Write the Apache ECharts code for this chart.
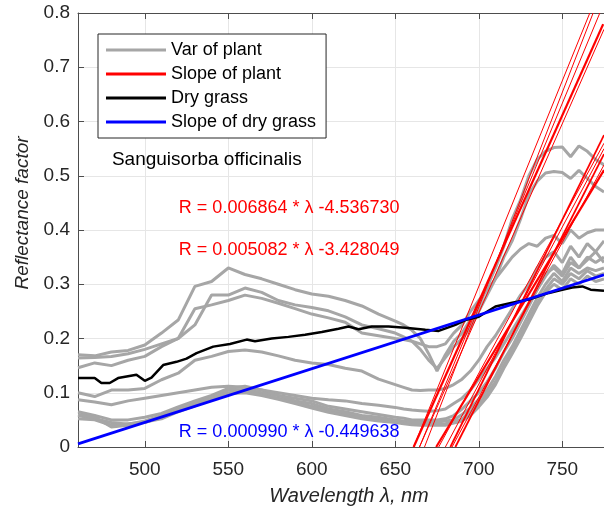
<!DOCTYPE html>
<html><head><meta charset="utf-8">
<script src="https://cdn.jsdelivr.net/npm/echarts@6/dist/echarts.min.js"></script>
<style>html,body{margin:0;padding:0;background:#fff}#c{width:604px;height:513px}</style>
</head><body><div id="c"></div>
<script>
// ---- data ----
const wavelengths = [460,470,480,490,500,510,520,530,540,550,560,570,580,590,600,610,620,630,640,650,
  655,660,665,670,675,680,685,690,695,700,705,710,715,720,725,730,735,740,745,750,755,760,765,770,775];
const plant1 = [.170,.168,.175,.178,.188,.21,.234,.296,.305,.33,.318,.31,.30,.29,.282,.278,.27,.26,.245,.232,
  .225,.215,.2,.172,.14,.17,.195,.21,.235,.26,.295,.33,.37,.42,.455,.50,.53,.545,.552,.553,.535,.555,.545,.53,.52];
const plant2 = [.164,.165,.167,.172,.18,.19,.2,.225,.28,.28,.293,.285,.27,.262,.257,.251,.24,.225,.218,.21,
  .203,.195,.18,.16,.145,.165,.185,.2,.22,.25,.28,.31,.35,.38,.42,.465,.49,.505,.508,.506,.495,.51,.495,.48,.47];
const plant3 = [.146,.155,.15,.16,.167,.185,.2,.255,.262,.27,.28,.274,.265,.255,.245,.238,.23,.21,.205,.2,
  .198,.195,.19,.185,.185,.19,.21,.225,.25,.27,.29,.31,.33,.35,.365,.375,.37,.385,.39,.375,.40,.385,.395,.40,.40];
const plant4 = [.10,.093,.105,.105,.108,.124,.136,.16,.167,.176,.179,.175,.168,.16,.155,.152,.145,.14,.125,.115,
  .11,.105,.104,.105,.105,.108,.115,.125,.14,.16,.185,.205,.23,.255,.28,.30,.33,.35,.36,.34,.37,.35,.375,.36,.38];
const plant5 = [.087,.083,.078,.085,.09,.095,.1,.105,.11,.112,.11,.105,.1,.095,.09,.087,.085,.08,.077,.073,
  .07,.068,.067,.066,.067,.07,.08,.09,.105,.125,.145,.165,.19,.215,.24,.265,.29,.32,.33,.315,.34,.33,.35,.34,.35];
const plant6 = [.065,.058,.05,.05,.055,.062,.074,.085,.095,.108,.112,.105,.095,.09,.085,.075,.07,.065,.06,.055,
  .053,.05,.05,.05,.05,.052,.058,.07,.085,.10,.12,.145,.175,.20,.23,.26,.29,.315,.335,.32,.35,.33,.345,.36,.34];
const plant7 = [.058,.052,.045,.042,.048,.058,.07,.082,.092,.105,.106,.1,.095,.085,.08,.07,.065,.058,.055,.05,
  .048,.047,.046,.045,.046,.048,.05,.06,.072,.088,.105,.13,.16,.185,.215,.245,.275,.30,.32,.305,.33,.32,.33,.325,.33];
const plant8 = [.052,.05,.04,.043,.045,.055,.068,.08,.09,.1,.103,.097,.09,.082,.075,.068,.062,.056,.052,.048,
  .045,.043,.042,.042,.042,.043,.046,.052,.065,.08,.098,.12,.15,.178,.205,.235,.265,.29,.31,.30,.32,.31,.325,.315,.32];
const plant9 = [.06,.055,.037,.04,.046,.052,.065,.076,.088,.098,.1,.095,.088,.08,.072,.064,.058,.052,.048,.045,
  .043,.041,.04,.04,.04,.04,.044,.048,.058,.074,.092,.115,.145,.172,.2,.23,.26,.285,.30,.29,.31,.30,.315,.305,.31];
const plantCurves = [plant1,plant2,plant3,plant4,plant5,plant6,plant7,plant8,plant9];

const dryWl  = [460,470,474,479,484,495,500,504,511,519,525,531,541,551,561,566,576,586,596,606,616,622,628,636,646,656,662,668,676,686,692,700,710,720,730,742,750,756,762,767,775];
const dryVal = [.127,.127,.118,.118,.127,.133,.122,.128,.151,.157,.163,.173,.185,.19,.198,.195,.2,.203,.207,.212,.218,.222,.217,.222,.222,.22,.218,.216,.214,.225,.234,.24,.259,.266,.272,.284,.29,.294,.296,.29,.288];

// fitted lines: [start point, end point] as [wavelength, reflectance]
const plantSlopeMain = [ [[661,0],[774.5,0.7795]], [[674.5,0],[775,0.5105]] ];
const plantSlopeOther = [
  [[661,0],[766.5,0.8]], [[664.5,0],[772.5,0.8]], [[667.5,0],[768.5,0.8]], [[664.5,0],[775,0.77]],
  [[676,0],[775,0.56]], [[680,0],[775,0.55]], [[684,0],[775,0.52]]
];
const plantSlopeBold = [ [[683,0],[775,0.575]], [[686,0],[775,0.54]] ];
const drySlope = [[460,0.00576],[775,0.31757]];

const annotations = [
  {text:'Sanguisorba officinalis', x:480.3, y:0.530, color:'#000000', size:19},
  {text:'R = 0.006864 * λ -4.536730', x:520.4, y:0.440, color:'#ff0000', size:18},
  {text:'R = 0.005082 * λ -3.428049', x:520.4, y:0.363, color:'#ff0000', size:18},
  {text:'R = 0.000990 * λ -0.449638', x:520.4, y:0.027, color:'#0000ff', size:18}
];
const legendNames = ['Var of plant','Slope of plant','Dry grass','Slope of dry grass'];
const xRange = [460, 775];
const yRange = [0, 0.8];

// ---- chart ----
const FONT = 'Liberation Sans, Arial, Helvetica, sans-serif';
const chart = echarts.init(document.getElementById('c'), null, {renderer:'canvas'});
const series = [];
plantCurves.forEach(c => series.push({
  name: legendNames[0], type:'line', symbol:'none', silent:true,
  data: wavelengths.map((w,i)=>[w,c[i]]),
  lineStyle:{color:'#a6a6a6', width:3}, itemStyle:{color:'#a6a6a6'}, z:2
}));
plantSlopeMain.forEach(l => series.push({
  name: legendNames[1], type:'line', symbol:'none', silent:true, data:l,
  lineStyle:{color:'#ff0000', width:2.2}, itemStyle:{color:'#ff0000'}, z:3
}));
plantSlopeBold.forEach(l => series.push({
  name: legendNames[1], type:'line', symbol:'none', silent:true, data:l,
  lineStyle:{color:'#ff0000', width:1.8}, itemStyle:{color:'#ff0000'}, z:3
}));
plantSlopeOther.forEach(l => series.push({
  name: legendNames[1], type:'line', symbol:'none', silent:true, data:l,
  lineStyle:{color:'#ff0000', width:1}, itemStyle:{color:'#ff0000'}, z:3
}));
series.push({
  name: legendNames[2], type:'line', symbol:'none', silent:true,
  data: dryWl.map((w,i)=>[w,dryVal[i]]),
  lineStyle:{color:'#000000', width:2.5}, itemStyle:{color:'#000000'}, z:4
});
series.push({
  name: legendNames[3], type:'line', symbol:'none', silent:true, data: drySlope,
  lineStyle:{color:'#0000ff', width:2.8}, itemStyle:{color:'#0000ff'}, z:5
});
annotations.forEach(a => series.push({
  type:'scatter', symbolSize:0, silent:true, z:6,
  data:[[a.x,a.y]],
  itemStyle:{opacity:1},
  label:{show:true, position:'right', distance:0, formatter:a.text, opacity:1,
    color:a.color, fontSize:a.size, fontFamily:FONT}
}));

chart.setOption({
  animation:false,
  backgroundColor:'#ffffff',
  grid:{left:78, right:0, top:13, bottom:66, containLabel:false},
  legend:{
    data: legendNames.map(n=>({name:n, icon:'rect'})),
    orient:'vertical', left:98, top:34,
    itemWidth:60, itemHeight:3, itemGap:6,
    padding:[7,10,7,8],
    borderColor:'#262626', borderWidth:1, backgroundColor:'#ffffff',
    textStyle:{fontSize:18, color:'#000', fontFamily:FONT, lineHeight:18},
    selectedMode:false, z:10
  },
  xAxis:[{
    type:'value', min:xRange[0], max:xRange[1], position:'bottom',
    name:'Wavelength λ, nm', nameLocation:'middle', nameGap:39,
    nameTextStyle:{fontSize:20, fontStyle:'italic', color:'#262626', fontFamily:FONT, padding:[0,0,0,16]},
    axisLine:{show:true, lineStyle:{color:'#4d4d4d', width:1}},
    axisTick:{show:true, inside:true, length:6, lineStyle:{color:'#4d4d4d'}},
    axisLabel:{show:true, fontSize:19, color:'#262626', fontFamily:FONT, margin:13, showMinLabel:false, showMaxLabel:false},
    splitLine:{show:true, lineStyle:{color:'#e6e6e6', width:1}}
  },{
    type:'value', min:xRange[0], max:xRange[1], position:'top',
    axisLine:{show:true, lineStyle:{color:'#4d4d4d', width:1}},
    axisTick:{show:true, inside:true, length:6, lineStyle:{color:'#4d4d4d'}},
    axisLabel:{show:false}, splitLine:{show:false}
  }],
  yAxis:[{
    type:'value', min:yRange[0], max:yRange[1], interval:0.1,
    name:'Reflectance factor', nameLocation:'middle', nameGap:46,
    nameTextStyle:{fontSize:19, fontStyle:'italic', color:'#262626', fontFamily:FONT, padding:[0,0,0,34]},
    axisLine:{show:true, lineStyle:{color:'#4d4d4d', width:1}},
    axisTick:{show:true, inside:true, length:6, lineStyle:{color:'#4d4d4d'}},
    axisLabel:{fontSize:19, color:'#262626', fontFamily:FONT, margin:8,
      formatter:v => v===0 ? '0' : v.toFixed(1)},
    splitLine:{show:true, lineStyle:{color:'#e6e6e6', width:1}}
  }],
  series: series
});
</script></body></html>
